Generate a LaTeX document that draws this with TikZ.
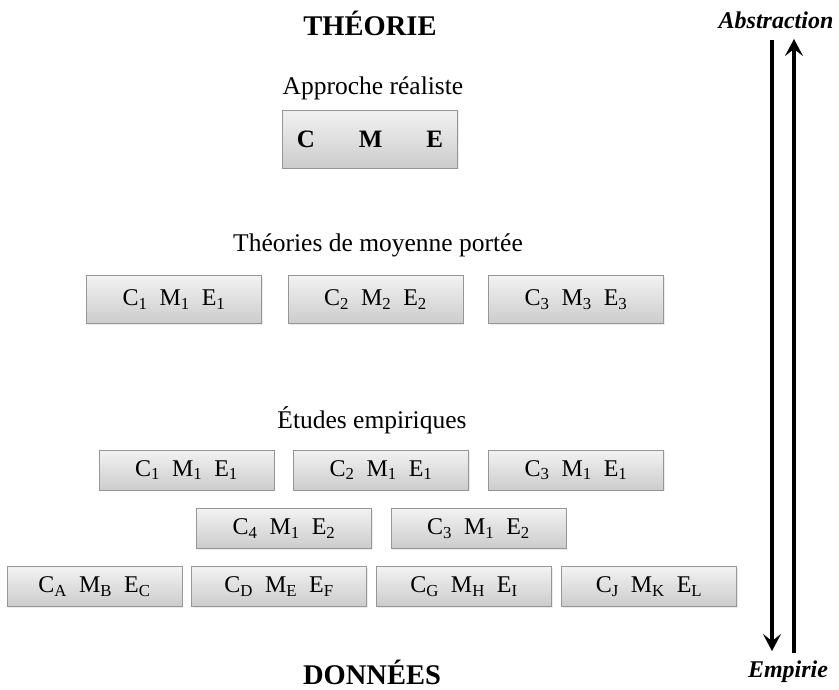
\documentclass[tikz,border=0pt]{standalone}
\usepackage{fontspec}
\setmainfont{Liberation Serif}
\usepackage{tikz}
\usetikzlibrary{arrows.meta, shadows}
\definecolor{boxtop}{RGB}{242,242,242}
\definecolor{boxbottom}{RGB}{204,204,204}
\definecolor{boxline}{RGB}{150,150,150}
\newcommand{\cmeset}[3]{C\textsubscript{#1}\enspace M\textsubscript{#2}\enspace E\textsubscript{#3}}
\newcommand{\fsz}[1]{\fontsize{#1}{#1}\selectfont}

\begin{document}
\begin{tikzpicture}[
    x=1pt, y=-1pt,
    element/.style={draw=boxline, top color=boxtop, bottom color=boxbottom, inner sep=0pt,
        minimum width=175pt, minimum height=40pt, font=\fsz{24}, align=center,
        drop shadow={opacity=0.15, shadow xshift=1pt, shadow yshift=-1pt}},
    level/.style={font=\fsz{28.5}\bfseries},
    heading/.style={font=\fsz{25.5}},
    pole/.style={font=\fsz{24}\bfseries\itshape},
    arrow/.style={-{Stealth[length=17pt, width=18pt, inset=7pt]}, line width=3.4pt}
]
    \useasboundingbox (0,0) rectangle (839,689);

    % Levels
    \node[level] (theorie) at (370,23) {THÉORIE};
    \node[level] (donnees) at (372,672) {DONNÉES};

    % Realist approach
    \node[heading] (realiste) at (373,88) {Approche réaliste};
    \node[element, minimum height=58pt, font=\fsz{25}\bfseries] (cme) at (370,139)
        {C\hspace{44pt}M\hspace{44pt}E};

    % Middle-range theories
    \node[heading] (moyenne) at (378,245) {Théories de moyenne portée};
    \node[element, minimum height=48pt] (mp1) at (174,299.5) {\cmeset{1}{1}{1}};
    \node[element, minimum height=48pt] (mp2) at (375.5,299.5) {\cmeset{2}{2}{2}};
    \node[element, minimum height=48pt] (mp3) at (576,299.5) {\cmeset{3}{3}{3}};

    % Empirical studies
    \node[heading] (etudes) at (372,420) {Études empiriques};
    \node[element] (ee1) at (186.5,470) {\cmeset{1}{1}{1}};
    \node[element] (ee2) at (381,470) {\cmeset{2}{1}{1}};
    \node[element] (ee3) at (576,470) {\cmeset{3}{1}{1}};
    \node[element] (ee4) at (284,528.5) {\cmeset{4}{1}{2}};
    \node[element] (ee5) at (478.5,528.5) {\cmeset{3}{1}{2}};
    \node[element] (ee6) at (94.5,586.5) {\cmeset{A}{B}{C}};
    \node[element] (ee7) at (279,586.5) {\cmeset{D}{E}{F}};
    \node[element] (ee8) at (464,586.5) {\cmeset{G}{H}{I}};
    \node[element] (ee9) at (649,586.5) {\cmeset{J}{K}{L}};

    % Abstraction axis
    \node[pole] (abstraction) at (776,20) {Abstraction};
    \node[pole] (empirie) at (788,672) {Empirie};
    \coordinate (downtop) at (772,40);
    \coordinate (downend) at (772,651);
    \coordinate (uptop) at (794,39);
    \coordinate (upend) at (794,653);
    \draw[arrow] (downtop) -- (downend);
    \draw[arrow] (upend) -- (uptop);
\end{tikzpicture}
\end{document}
